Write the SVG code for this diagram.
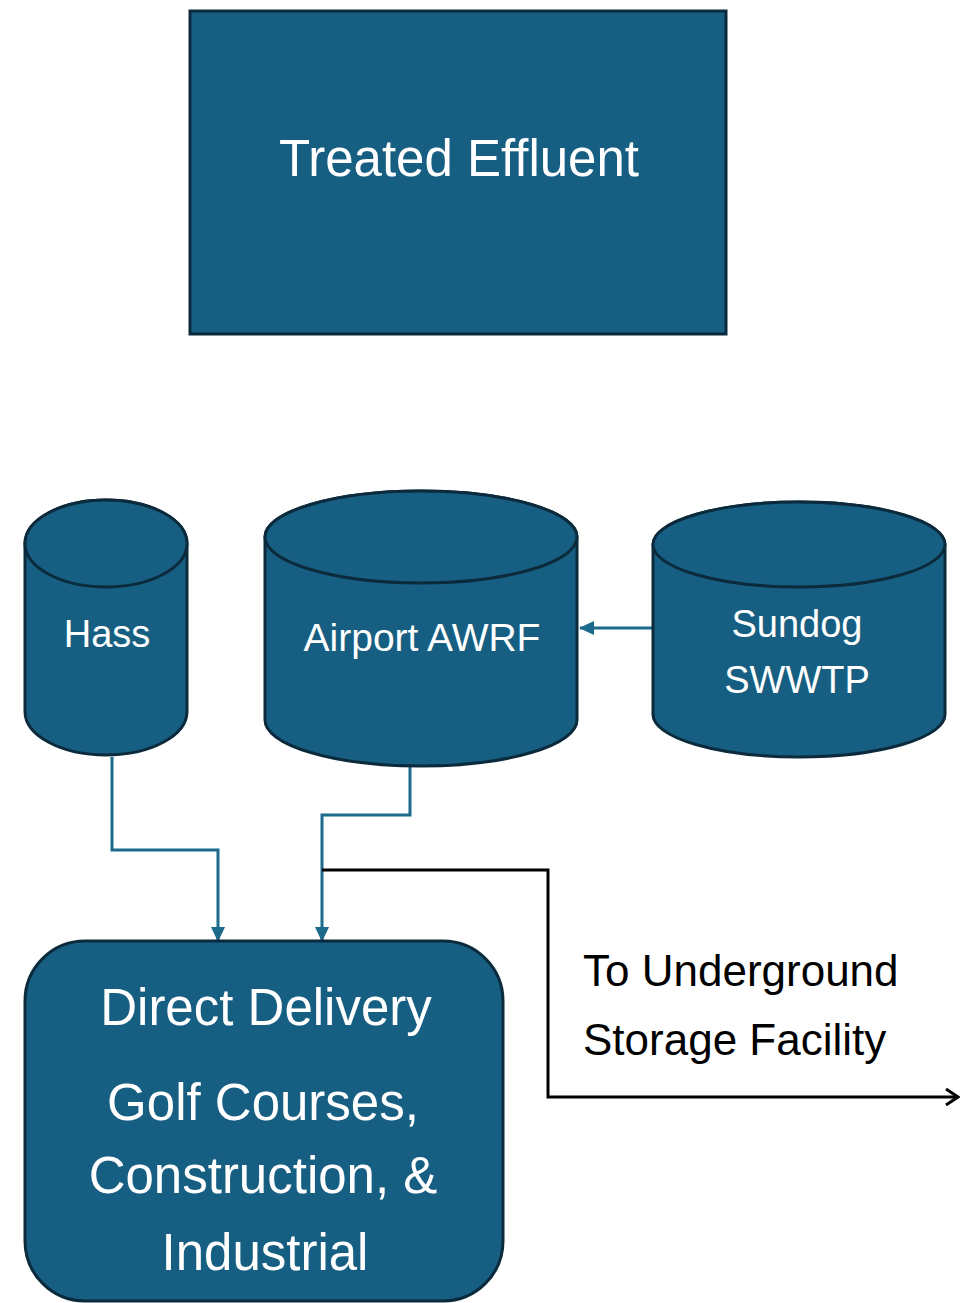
<svg xmlns="http://www.w3.org/2000/svg" width="961" height="1303" viewBox="0 0 961 1303">
<style>
.node{fill:#175f82;stroke:#0b2b3d;stroke-width:3}
.lbl{fill:#ffffff;font-family:"Liberation Sans",Arial,sans-serif;text-anchor:middle}
.teal{fill:none;stroke:#1c6a8c;stroke-width:3}
.blk{fill:none;stroke:#000000;stroke-width:3}
.note{fill:#000000;font-family:"Liberation Sans",Arial,sans-serif;font-size:44px}
</style>
<defs>
<marker id="tealArrow" markerUnits="userSpaceOnUse" markerWidth="16" markerHeight="16" viewBox="0 0 16 16" refX="14" refY="8" orient="auto">
<path d="M0,1 L15,8 L0,15 Z" fill="#1c6a8c"/>
</marker>
<marker id="openArrow" markerUnits="userSpaceOnUse" markerWidth="16" markerHeight="20" viewBox="0 0 16 20" refX="14" refY="10" orient="auto">
<path d="M2,2 L14,10 L2,18" fill="none" stroke="#000" stroke-width="3"/>
</marker>
</defs>
<rect width="961" height="1303" fill="#ffffff"/>

<g id="connectors">
<path class="teal" d="M653,628 L580,628" marker-end="url(#tealArrow)"/>
<path class="teal" d="M112,757 L112,850 L218,850 L218,941" marker-end="url(#tealArrow)"/>
<path class="teal" d="M410,766 L410,815 L322,815 L322,941" marker-end="url(#tealArrow)"/>
<path class="blk" d="M322,870 L548,870 L548,1097 L958,1097" marker-end="url(#openArrow)"/>
</g>

<g id="treated-effluent">
<rect class="node" x="190" y="11" width="536" height="323"/>
<text class="lbl" x="459" y="176" font-size="51">Treated Effluent</text>
</g>

<g id="hass">
<path class="node" d="M25,543.5 L25,711.5 A81,43.5 0 0 0 187,711.5 L187,543.5 A81,43.5 0 0 0 25,543.5 Z"/>
<ellipse class="node" cx="106" cy="543.5" rx="81" ry="43.5"/>
<text class="lbl" x="107" y="647" font-size="38">Hass</text>
</g>

<g id="airport-awrf">
<path class="node" d="M265,537 L265,720 A156,46 0 0 0 577,720 L577,537 A156,46 0 0 0 265,537 Z"/>
<ellipse class="node" cx="421" cy="537" rx="156" ry="46"/>
<text class="lbl" x="422" y="651" font-size="39">Airport AWRF</text>
</g>

<g id="sundog-swwtp">
<path class="node" d="M653,544.5 L653,714.5 A146,42.5 0 0 0 945,714.5 L945,544.5 A146,42.5 0 0 0 653,544.5 Z"/>
<ellipse class="node" cx="799" cy="544.5" rx="146" ry="42.5"/>
<text class="lbl" x="797" y="637" font-size="38">Sundog</text>
<text class="lbl" x="797" y="693" font-size="38">SWWTP</text>
</g>

<g id="direct-delivery">
<rect class="node" x="25" y="941" width="478" height="360" rx="60" ry="60"/>
<text class="lbl" x="266" y="1025" font-size="51">Direct Delivery</text>
<text class="lbl" x="263" y="1120" font-size="51">Golf Courses,</text>
<text class="lbl" x="263" y="1193" font-size="51">Construction, &amp;</text>
<text class="lbl" x="265" y="1270" font-size="51">Industrial</text>
</g>

<g id="storage-label">
<text class="note" x="583" y="986">To Underground</text>
<text class="note" x="583" y="1055">Storage Facility</text>
</g>
</svg>
